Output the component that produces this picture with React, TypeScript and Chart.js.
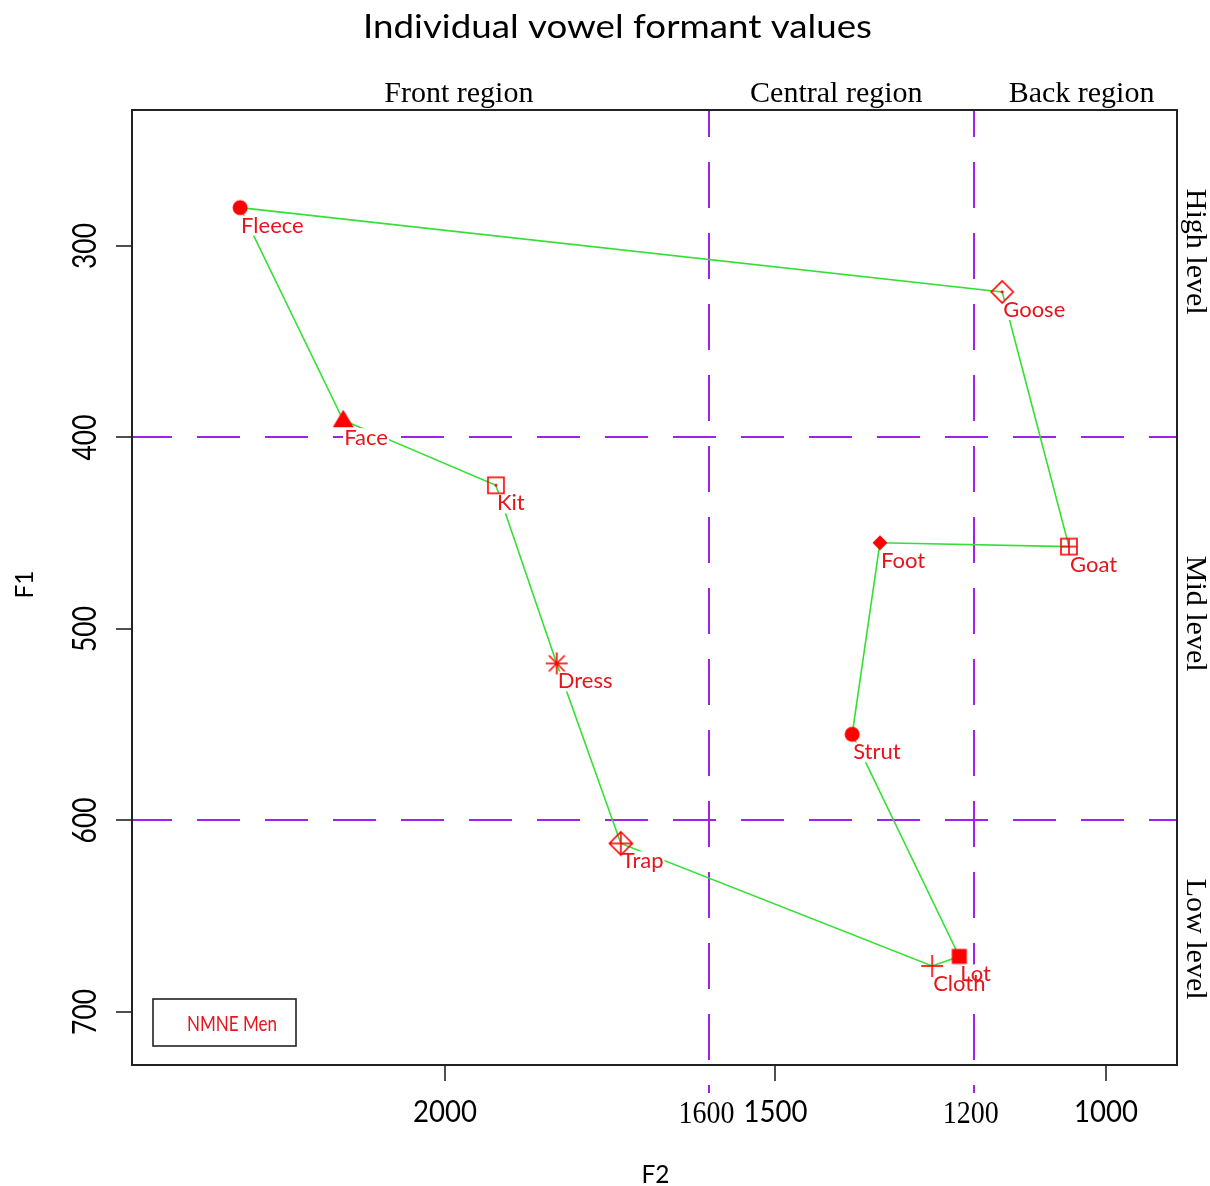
import React, { useEffect, useRef } from 'react';
import { Chart, registerables } from 'chart.js';

Chart.register(...registerables);

// ---------------- data ----------------
const vowels = ['Fleece', 'Face', 'Kit', 'Dress', 'Trap', 'Cloth', 'Lot', 'Strut', 'Foot', 'Goat', 'Goose'];
const f2Values = [2310, 2154, 1923, 1831, 1734, 1263, 1222, 1384, 1342, 1056, 1157];
const f1Values = [280, 391, 425, 518, 612, 676, 671, 555, 455, 457, 324];
const markerKinds = ['dot', 'triangle', 'squareDot', 'asterisk', 'diamondPlus', 'plus', 'square', 'dot', 'diamondFilled', 'squarePlus', 'diamondDot'];
const pathOrder = ['Fleece', 'Face', 'Kit', 'Dress', 'Trap', 'Cloth', 'Lot', 'Strut', 'Foot', 'Goat', 'Goose', 'Fleece'];
const xTickValues = [2000, 1500, 1000];
const yTickValues = [300, 400, 500, 600, 700];
const f2Boundaries = [1600, 1200];
const f1Boundaries = [400, 600];
const regionLabels = ['Front region', 'Central region', 'Back region'];
const levelLabels = ['High level', 'Mid level', 'Low level'];
const legendLabel = 'NMNE Men';
const titleText = 'Individual vowel formant values';
const xTitle = 'F2';
const yTitle = 'F1';

// ---------------- layout / style ----------------
const W = 1210;
const H = 1186;
const X_MIN = 892.6;
const X_MAX = 2473.5;
const Y_MIN = 229;
const Y_MAX = 727.7;
const REGION_LABEL_AT = [1979, 1408, 1037]; // F2 units
const LEVEL_LABEL_AT = [303, 492, 662]; // F1 units
const RED = '#ff0000';
const TEXT_RED = '#e8141b';
const GREEN = '#33e033';
const PURPLE = '#a020f0';
const SANS = 'Lato, "Noto Sans", sans-serif';
const SERIF = '"Liberation Serif", "Times New Roman", serif';

function makeMarker(kind: string): HTMLCanvasElement {
  const c = document.createElement('canvas');
  c.width = 32;
  c.height = 32;
  const g = c.getContext('2d')!;
  g.translate(16, 16);
  g.fillStyle = RED;
  g.strokeStyle = RED;
  g.lineWidth = 1.6;
  const line = (x1: number, y1: number, x2: number, y2: number) => {
    g.beginPath();
    g.moveTo(x1, y1);
    g.lineTo(x2, y2);
    g.stroke();
  };
  const diamond = (r: number) => {
    g.beginPath();
    g.moveTo(0, -r);
    g.lineTo(r, 0);
    g.lineTo(0, r);
    g.lineTo(-r, 0);
    g.closePath();
  };
  const dot = (r: number) => {
    g.beginPath();
    g.arc(0, 0, r, 0, Math.PI * 2);
    g.fill();
  };
  switch (kind) {
    case 'dot':
      dot(7.5);
      break;
    case 'triangle':
      g.beginPath();
      g.moveTo(0, -10.5);
      g.lineTo(10.5, 7);
      g.lineTo(-10.5, 7);
      g.closePath();
      g.fill();
      break;
    case 'squareDot':
      g.strokeRect(-8, -8, 16, 16);
      dot(1.4);
      break;
    case 'asterisk':
      line(-11, 0, 11, 0);
      line(0, -11, 0, 11);
      line(-8, -8, 8, 8);
      line(-8, 8, 8, -8);
      break;
    case 'diamondPlus':
      diamond(11.5);
      g.stroke();
      line(-11.5, 0, 11.5, 0);
      line(0, -11.5, 0, 11.5);
      break;
    case 'plus':
      line(-11, 0, 11, 0);
      line(0, -11, 0, 11);
      break;
    case 'square':
      g.fillRect(-7.5, -7.5, 15, 15);
      break;
    case 'diamondFilled':
      diamond(7.5);
      g.fill();
      break;
    case 'squarePlus':
      g.strokeRect(-8, -8, 16, 16);
      line(-8, 0, 8, 0);
      line(0, -8, 0, 8);
      break;
    case 'diamondDot':
      diamond(11);
      g.stroke();
      dot(1.4);
      break;
  }
  return c;
}

// text drawn so that the centre of its cap height sits on (cx, cy)
function drawText(
  ctx: CanvasRenderingContext2D,
  text: string,
  cx: number,
  cy: number,
  font: string,
  color: string,
  targetW: number | null = null,
  rot = 0,
  align: CanvasTextAlign = 'center'
) {
  ctx.save();
  ctx.font = font;
  ctx.fillStyle = color;
  const w = ctx.measureText(text).width;
  const capH = ctx.measureText('H').actualBoundingBoxAscent;
  const sx = targetW ? targetW / w : 1;
  ctx.translate(cx, cy);
  ctx.rotate(rot);
  ctx.scale(sx, 1);
  ctx.textAlign = align;
  ctx.textBaseline = 'alphabetic';
  ctx.fillText(text, 0, capH / 2);
  ctx.restore();
}

const LABEL_FONT = `22px ${SANS}`;
const LABEL_DX = 1;
const LABEL_DY = 17.5;

const decorPlugin = {
  id: 'decor',
  beforeDatasetsDraw(chart: any) {
    const { ctx, chartArea: a, scales } = chart;
    const x = scales.x;
    const y = scales.y;
    ctx.save();
    ctx.strokeStyle = PURPLE;
    ctx.lineWidth = 2;
    ctx.setLineDash([46, 25]);
    ctx.lineDashOffset = 19;
    f2Boundaries.forEach((v) => {
      const px = Math.round(x.getPixelForValue(v));
      ctx.beginPath();
      ctx.moveTo(px, a.top);
      ctx.lineTo(px, a.bottom + 28);
      ctx.stroke();
    });
    ctx.setLineDash([43, 25]);
    ctx.lineDashOffset = 3;
    f1Boundaries.forEach((v) => {
      const py = Math.round(y.getPixelForValue(v));
      ctx.beginPath();
      ctx.moveTo(a.left, py);
      ctx.lineTo(a.right, py);
      ctx.stroke();
    });
    ctx.restore();
  },
  afterDatasetDraw(chart: any, args: any) {
    if (args.index !== 1) return;
    // white boxes behind point labels (hide the lines beneath them)
    const { ctx } = chart;
    const meta = chart.getDatasetMeta(0);
    ctx.save();
    ctx.font = LABEL_FONT;
    const capH = ctx.measureText('H').actualBoundingBoxAscent;
    ctx.fillStyle = '#ffffff';
    meta.data.forEach((pt: any, i: number) => {
      const w = ctx.measureText(vowels[i]).width;
      const left = pt.x + LABEL_DX;
      const cy = pt.y + LABEL_DY;
      ctx.fillRect(left - 1, cy - capH / 2 - 2, w + 2, capH + 5);
    });
    ctx.restore();
  },
  afterDatasetsDraw(chart: any) {
    const { ctx, chartArea: a, scales } = chart;
    const x = scales.x;
    const y = scales.y;
    const meta = chart.getDatasetMeta(0);

    // point labels
    meta.data.forEach((pt: any, i: number) => {
      drawText(ctx, vowels[i], pt.x + LABEL_DX, pt.y + LABEL_DY, LABEL_FONT, TEXT_RED, null, 0, 'left');
    });

    // plot box
    ctx.save();
    ctx.strokeStyle = '#222222';
    ctx.lineWidth = 2;
    ctx.strokeRect(a.left, a.top, a.right - a.left, a.bottom - a.top);

    // ticks
    ctx.lineWidth = 1.6;
    ctx.strokeStyle = '#222222';
    xTickValues.forEach((v) => {
      const px = Math.round(x.getPixelForValue(v));
      ctx.beginPath();
      ctx.moveTo(px, a.bottom);
      ctx.lineTo(px, a.bottom + 16);
      ctx.stroke();
    });
    yTickValues.forEach((v) => {
      const py = Math.round(y.getPixelForValue(v));
      ctx.beginPath();
      ctx.moveTo(a.left - 16, py);
      ctx.lineTo(a.left, py);
      ctx.stroke();
    });
    ctx.restore();

    // tick labels
    xTickValues.forEach((v) => {
      drawText(ctx, String(v), x.getPixelForValue(v), a.bottom + 46, `31px ${SANS}`, '#000', 64);
    });
    f2Boundaries.forEach((v) => {
      drawText(ctx, String(v), x.getPixelForValue(v) - 3, a.bottom + 47.5, `31px ${SERIF}`, '#000', 56);
    });
    yTickValues.forEach((v) => {
      drawText(ctx, String(v), a.left - 48.5, y.getPixelForValue(v), `32px ${SANS}`, '#000', 46, -Math.PI / 2);
    });

    // region labels (top) and level labels (right)
    regionLabels.forEach((t, i) => {
      drawText(ctx, t, x.getPixelForValue(REGION_LABEL_AT[i]), a.top - 18, `30px ${SERIF}`, '#000');
    });
    levelLabels.forEach((t, i) => {
      drawText(ctx, t, a.right + 19, y.getPixelForValue(LEVEL_LABEL_AT[i]), `30px ${SERIF}`, '#000', null, Math.PI / 2);
    });

    // title and axis titles
    drawText(ctx, titleText, 617.5, 25.5, `32px ${SANS}`, '#000', 509);
    drawText(ctx, xTitle, (a.left + a.right) / 2 + 1, a.bottom + 109, `25px ${SANS}`, '#000', 28);
    drawText(ctx, yTitle, a.left - 108, (a.top + a.bottom) / 2 - 3, `25px ${SANS}`, '#000', 28, -Math.PI / 2);

    // legend box
    ctx.save();
    ctx.strokeStyle = '#222222';
    ctx.lineWidth = 1.6;
    ctx.strokeRect(a.left + 21, a.bottom - 66, 143, 47);
    ctx.restore();
    drawText(ctx, legendLabel, a.left + 100, a.bottom - 42, `21px ${SANS}`, TEXT_RED, 90);
  },
};

export default function App() {
  const ref = useRef<HTMLCanvasElement | null>(null);
  useEffect(() => {
    document.body.style.margin = '0';
    const canvas = ref.current!;
    const points = vowels.map((_, i) => ({ x: f2Values[i], y: f1Values[i] }));
    const path = pathOrder.map((name) => {
      const i = vowels.indexOf(name);
      return { x: f2Values[i], y: f1Values[i] };
    });
    const styles = markerKinds.map((k) => makeMarker(k));
    const chart = new Chart(canvas, {
      type: 'scatter',
      data: {
        datasets: [
          {
            label: legendLabel,
            data: points,
            pointStyle: styles as any,
            pointRadius: 10,
            pointHoverRadius: 10,
            showLine: false,
            backgroundColor: RED,
            borderColor: RED,
          },
          {
            label: 'path',
            data: path,
            showLine: true,
            borderColor: GREEN,
            borderWidth: 1.6,
            pointRadius: 0,
            pointHoverRadius: 0,
            fill: false,
            tension: 0,
          },
        ],
      },
      options: {
        animation: false,
        responsive: false,
        maintainAspectRatio: false,
        devicePixelRatio: 1,
        events: [],
        layout: { padding: { left: 132, top: 110, right: W - 1177, bottom: H - 1065 } },
        scales: {
          x: { type: 'linear', reverse: true, min: X_MIN, max: X_MAX, display: false },
          y: { type: 'linear', reverse: true, min: Y_MIN, max: Y_MAX, display: false },
        },
        plugins: {
          legend: { display: false },
          title: { display: false },
          tooltip: { enabled: false },
        },
      },
      plugins: [decorPlugin],
    });
    return () => chart.destroy();
  }, []);
  return <canvas ref={ref} width={W} height={H} style={{ display: 'block', width: W, height: H }} />;
}
